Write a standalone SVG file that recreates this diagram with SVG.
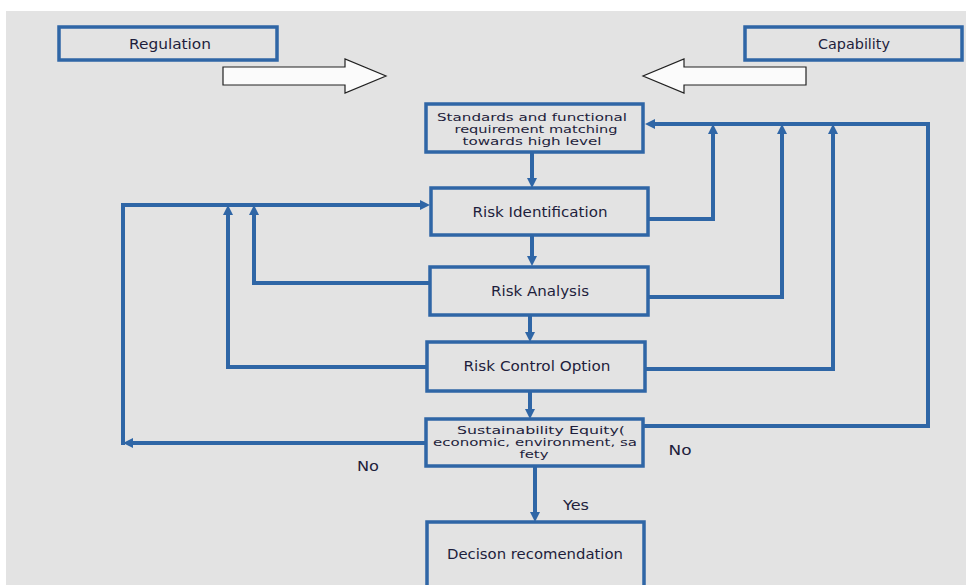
<svg xmlns="http://www.w3.org/2000/svg" width="966" height="585" viewBox="0 0 966 585">
  <defs>
    <style>
      .box { fill: #e3e3e3; stroke: #2f66a6; stroke-width: 3.5; }
      .conn { fill: none; stroke: #2f66a6; stroke-width: 4; stroke-linejoin: miter; }
      .lbl { font-family: "DejaVu Sans", Verdana, sans-serif; font-size: 13.5px; fill: #1e1e3c; text-anchor: middle; }
      .sm { font-size: 10.5px; }
      .big { fill: #fbfbfb; stroke: #222; stroke-width: 1.2; }
    </style>
    <marker id="head" viewBox="0 0 10 10" refX="0" refY="5" markerWidth="10" markerHeight="10" markerUnits="userSpaceOnUse" orient="auto">
      <path d="M0,0 L10,5 L0,10 z" fill="#2f66a6"/>
    </marker>
  </defs>

  <!-- page -->
  <rect x="0" y="0" width="966" height="585" fill="#ffffff"/>
  <rect x="6" y="11" width="960" height="574" fill="#e3e3e3"/>

  <!-- inputs -->
  <g id="regulation">
    <rect class="box" x="59" y="27" width="218" height="33"/>
    <text class="lbl" x="170" y="49" textLength="82" lengthAdjust="spacingAndGlyphs">Regulation</text>
  </g>
  <g id="capability">
    <rect class="box" x="745" y="27" width="217" height="33"/>
    <text class="lbl" x="854" y="49" textLength="72" lengthAdjust="spacingAndGlyphs">Capability</text>
  </g>
  <g id="regulation-arrow">
    <polygon class="big" points="223,67 345,67 345,59 386,76 345,93 345,85 223,85"/>
  </g>
  <g id="capability-arrow">
    <polygon class="big" points="806,67 684,67 684,59 643,76 684,93 684,85 806,85"/>
  </g>

  <!-- process steps -->
  <g id="standards">
    <rect class="box" x="426" y="104" width="217" height="48"/>
    <text class="lbl sm" x="532" y="121" textLength="190" lengthAdjust="spacingAndGlyphs">Standards and functional</text>
    <text class="lbl sm" x="536" y="133" textLength="163" lengthAdjust="spacingAndGlyphs">requirement matching</text>
    <text class="lbl sm" x="532" y="145" textLength="139" lengthAdjust="spacingAndGlyphs">towards high level</text>
  </g>
  <g id="risk-identification">
    <rect class="box" x="431" y="188" width="217" height="47"/>
    <text class="lbl" x="540" y="217" textLength="135" lengthAdjust="spacingAndGlyphs">Risk Identification</text>
  </g>
  <g id="risk-analysis">
    <rect class="box" x="430" y="267" width="218" height="48"/>
    <text class="lbl" x="540" y="296" textLength="98" lengthAdjust="spacingAndGlyphs">Risk Analysis</text>
  </g>
  <g id="risk-control-option">
    <rect class="box" x="427" y="342" width="218" height="49"/>
    <text class="lbl" x="537" y="371" textLength="147" lengthAdjust="spacingAndGlyphs">Risk Control Option</text>
  </g>
  <g id="sustainability-equity">
    <rect class="box" x="426" y="419" width="217" height="47"/>
    <text class="lbl sm" x="541" y="434" textLength="168" lengthAdjust="spacingAndGlyphs">Sustainability Equity(</text>
    <text class="lbl sm" x="535" y="446" textLength="204" lengthAdjust="spacingAndGlyphs">economic, environment, sa</text>
    <text class="lbl sm" x="534" y="458" textLength="29" lengthAdjust="spacingAndGlyphs">fety</text>
  </g>
  <g id="decision">
    <rect class="box" x="427" y="522" width="217" height="70"/>
    <text class="lbl" x="535" y="559" textLength="176" lengthAdjust="spacingAndGlyphs">Decison recomendation</text>
  </g>

  <!-- connectors -->
  <g id="connectors">
    <path class="conn" d="M532,152 V178" marker-end="url(#head)"/>
    <path class="conn" d="M532,236 V256" marker-end="url(#head)"/>
    <path class="conn" d="M530,315 V332" marker-end="url(#head)"/>
    <path class="conn" d="M530,391 V409" marker-end="url(#head)"/>
    <path class="conn" d="M535,466 V512" marker-end="url(#head)"/>

    <!-- left feedback loops -->
    <path class="conn" d="M426,443 H133" marker-end="url(#head)"/>
    <path class="conn" d="M123,445 V205 H420" marker-end="url(#head)"/>
    <path class="conn" d="M427,367 H228 V215" marker-end="url(#head)"/>
    <path class="conn" d="M430,283 H254 V215" marker-end="url(#head)"/>

    <!-- right feedback loops -->
    <path class="conn" d="M643,426 H928 V124 H655" marker-end="url(#head)"/>
    <path class="conn" d="M648,219 H713 V134" marker-end="url(#head)"/>
    <path class="conn" d="M648,297 H782 V134" marker-end="url(#head)"/>
    <path class="conn" d="M645,369 H833 V134" marker-end="url(#head)"/>

    <text class="lbl" x="576" y="510" textLength="26" lengthAdjust="spacingAndGlyphs">Yes</text>
    <text class="lbl" x="680" y="455" textLength="23" lengthAdjust="spacingAndGlyphs">No</text>
    <text class="lbl" x="368" y="471" textLength="22" lengthAdjust="spacingAndGlyphs">No</text>
  </g>
</svg>
